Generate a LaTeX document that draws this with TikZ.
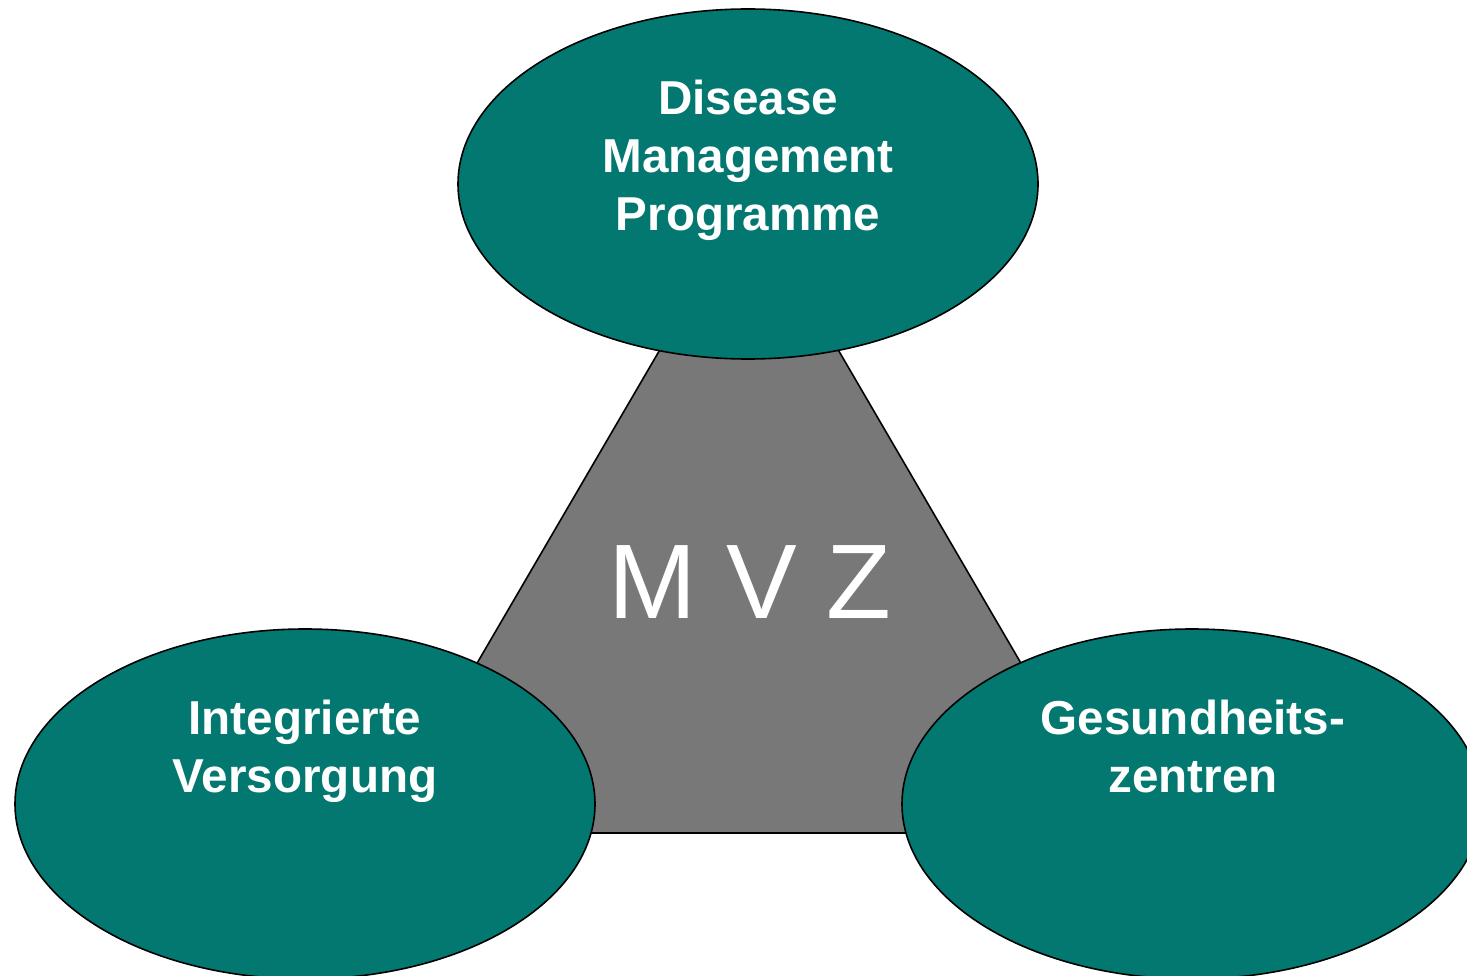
\documentclass[tikz,border=0pt]{standalone}
\usepackage{fontspec}
\setmainfont{Liberation Sans}
\usetikzlibrary{shapes.geometric}
\definecolor{dmpteal}{RGB}{3,120,112}
\definecolor{mvzgray}{RGB}{120,120,120}
\begin{document}
\begin{tikzpicture}[x=1pt,y=-1pt,
  blob/.style={ellipse, draw=black, line width=1.6pt, fill=dmpteal,
    minimum width=580pt, minimum height=350pt, inner sep=0pt},
  tri/.style={draw=black, line width=1.6pt, fill=mvzgray, line join=miter},
  label/.style={text=white, inner sep=0pt, align=center, anchor=north,
    font=\fontsize{47.6}{58}\selectfont\bfseries}]
\useasboundingbox (0,0) rectangle (1467,976);
\clip (0,0) rectangle (1467,976);
% central triangle
\coordinate (apex) at (749,197);
\coordinate (bl) at (378,833);
\coordinate (br) at (1120,833);
\draw[tri] (apex) -- (bl) -- (br) -- cycle;
\node[text=white, inner sep=0pt, anchor=base,
  font=\fontsize{106}{120}\selectfont] (mvz) at (750,618) {M V Z};
% the three surrounding ellipses
\node[blob] (dmp) at (748,184) {};
\node[blob] (iv) at (305,804) {};
\node[blob] (gz) at (1192,804) {};
\node[label] (dmptext) at (748,80) {Disease\\Management\\Programme};
\node[label] (ivtext) at (305,700) {Integrierte\\Versorgung};
\node[label] (gztext) at (1193,700) {Gesundheits-\\zentren};
\end{tikzpicture}
\end{document}
